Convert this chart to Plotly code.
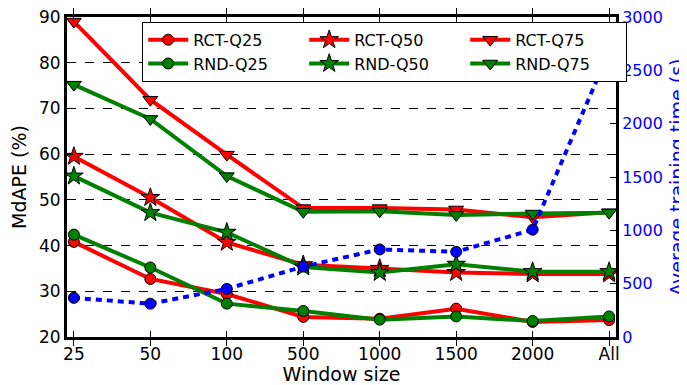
import plotly.graph_objects as go

categories = ["25", "50", "100", "500", "1000", "1500", "2000", "All"]

rct_q25 = [40.8, 32.7, 29.4, 24.4, 24.0, 26.2, 23.3, 23.7]
rct_q50 = [59.5, 50.5, 40.7, 35.8, 35.0, 34.1, 33.8, 33.8]
rct_q75 = [89.0, 71.9, 59.9, 48.2, 48.2, 47.9, 46.2, 47.3]
rnd_q25 = [42.4, 35.2, 27.3, 25.7, 23.8, 24.5, 23.5, 24.5]
rnd_q50 = [55.2, 47.2, 42.9, 35.3, 34.1, 35.9, 34.3, 34.3]
rnd_q75 = [75.2, 67.7, 55.2, 47.4, 47.5, 46.7, 47.0, 47.2]
train_time = [367, 312, 451, 660, 821, 799, 1006, 2679]

FONT = "DejaVu Sans"
RED = "#ff0000"
GREEN = "#008000"
BLUE = "#0000ff"

fig = go.Figure()

series = [
    ("RCT-Q25", rct_q25, RED, "circle", 11),
    ("RCT-Q50", rct_q50, RED, "star", 14),
    ("RCT-Q75", rct_q75, RED, "triangle-down", 13),
    ("RND-Q25", rnd_q25, GREEN, "circle", 11),
    ("RND-Q50", rnd_q50, GREEN, "star", 14),
    ("RND-Q75", rnd_q75, GREEN, "triangle-down", 13),
]
for name, vals, col, sym, sz in series:
    fig.add_trace(go.Scatter(
        x=categories, y=vals, name=name, mode="lines+markers",
        line=dict(color=col, width=4),
        marker=dict(symbol=sym, size=sz, color=col, line=dict(color="black", width=1)),
    ))

fig.add_trace(go.Scatter(
    x=categories, y=train_time, name="Training time", mode="lines+markers",
    yaxis="y2", showlegend=False,
    line=dict(color=BLUE, width=4, dash="6px,5px"),
    marker=dict(symbol="circle", size=11, color=BLUE, line=dict(color="black", width=1)),
))

fig.update_layout(
    width=679, height=377,
    margin=dict(l=59, r=71, t=9, b=48),
    plot_bgcolor="white", paper_bgcolor="white",
    font=dict(family=FONT, size=17, color="black"),
    xaxis=dict(
        type="category", range=[-0.09, 7.09], automargin=False,
        showline=True, linecolor="black", linewidth=3, mirror="allticks",
        ticks="inside", ticklen=6, tickcolor="black",
        showgrid=False, zeroline=False,
        title=dict(text="Window size", font=dict(size=19), standoff=1),
        tickfont=dict(size=17),
    ),
    yaxis=dict(
        range=[20, 90], dtick=10, automargin=False, ticklabeloverflow="allow",
        showline=True, linecolor="black", linewidth=3,
        ticks="inside", ticklen=6, tickcolor="black",
        showgrid=True, gridcolor="black", gridwidth=1, griddash="dash",
        zeroline=False,
        title=dict(text="MdAPE (%)", font=dict(size=19), standoff=14),
        tickfont=dict(size=17),
    ),
    yaxis2=dict(
        overlaying="y", side="right", range=[0, 3000], dtick=500, automargin=False,
        ticklabeloverflow="allow",
        showline=True, linecolor="black", linewidth=3,
        ticks="inside", ticklen=6, tickcolor="black",
        showgrid=False, zeroline=False,
        tickfont=dict(size=16, color=BLUE),
    ),
    annotations=[dict(
        text="Average training time (s)", xref="paper", yref="paper",
        x=1.111, y=0.5, xanchor="center", yanchor="middle",
        textangle=-90, showarrow=False, font=dict(size=19, color=BLUE),
    )],
    legend=dict(
        orientation="h", x=0.137, y=0.985, xanchor="left", yanchor="top",
        bgcolor="white", bordercolor="black", borderwidth=1,
        font=dict(size=16), entrywidth=106, traceorder="normal",
        itemwidth=40,
    ),
)

fig.write_html("out.html")
